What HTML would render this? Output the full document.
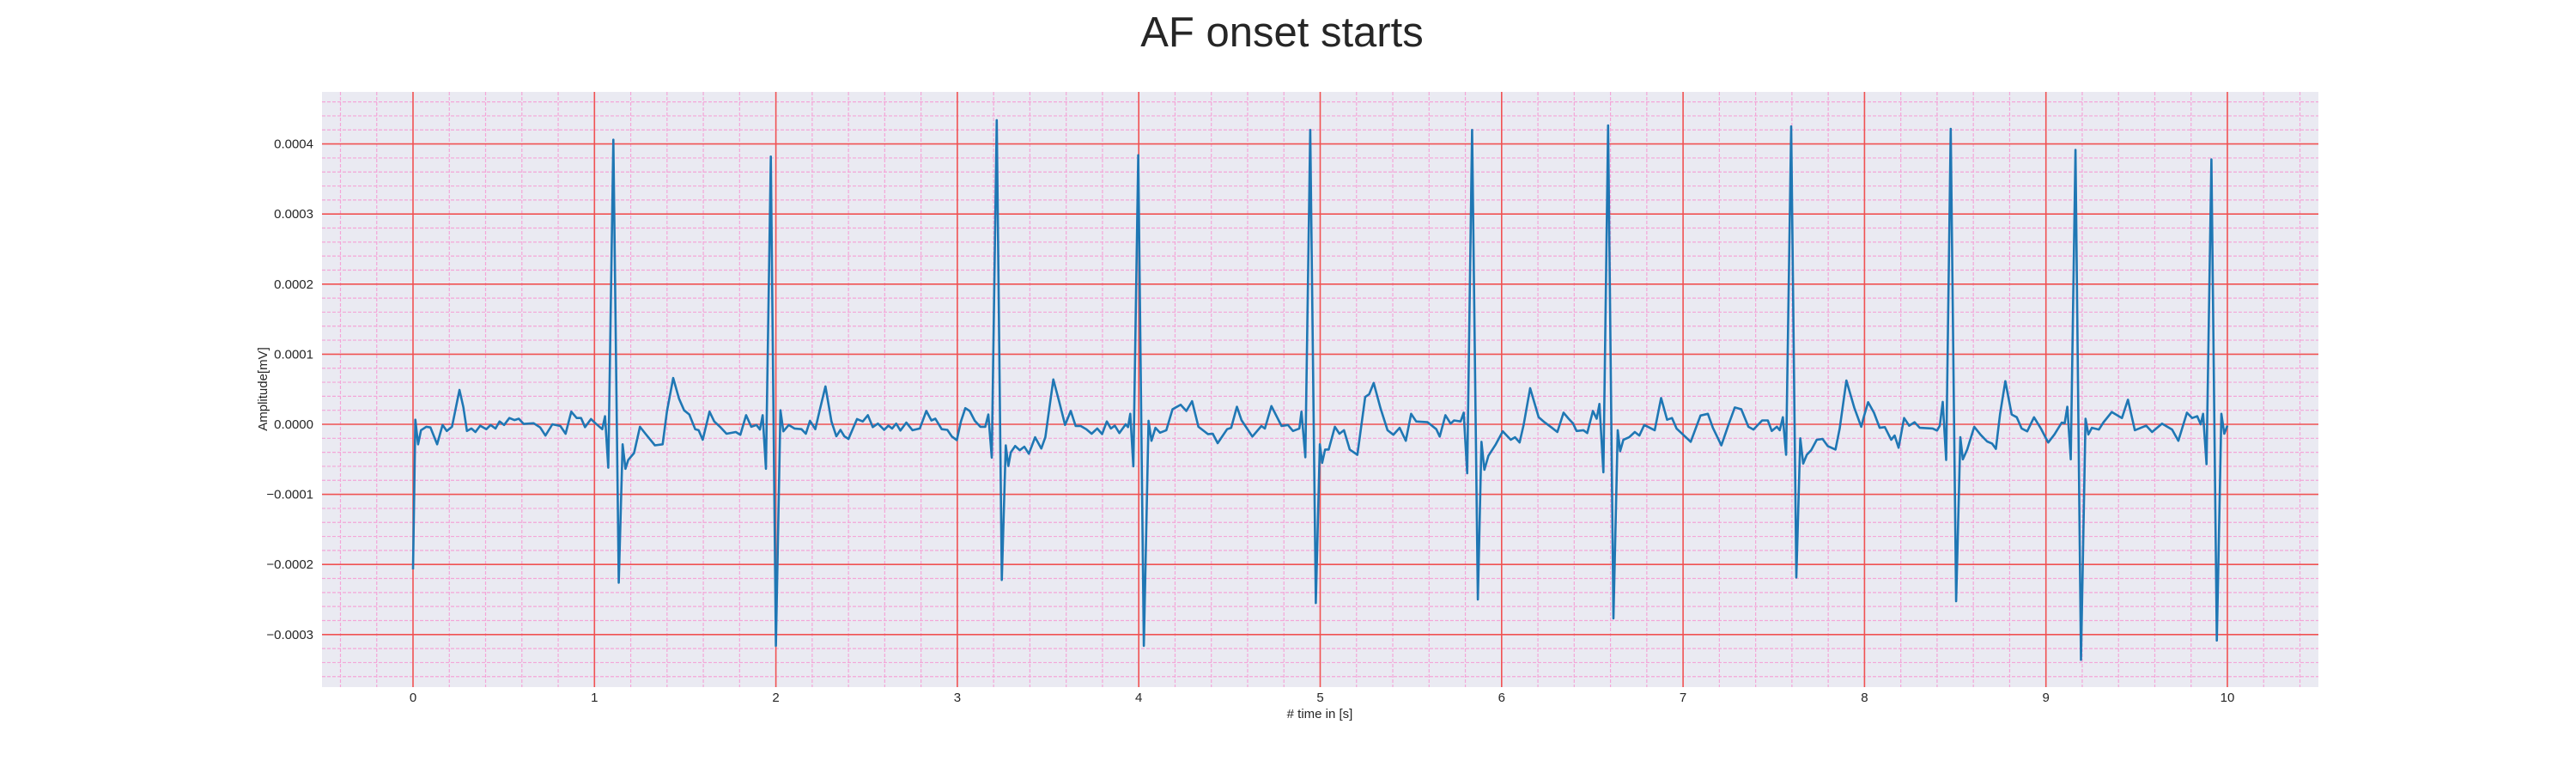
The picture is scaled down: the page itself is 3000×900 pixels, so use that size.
<!DOCTYPE html>
<html><head><meta charset="utf-8"><style>
html,body{margin:0;padding:0;background:#fff;}
svg{display:block;font-family:"Liberation Sans",Arial,sans-serif;}
</style></head><body>
<svg id="chart" width="3000" height="900" viewBox="0 0 3000 900" xmlns="http://www.w3.org/2000/svg">
<text x="1493" y="54" text-anchor="middle" font-size="49" fill="#262626">AF onset starts</text>
<rect x="375" y="107" width="2325" height="693" fill="#eaeaf2"/>
<g id="grid"></g>
<g id="series"></g>
<g id="ticks"></g>
<text x="1537" y="836" text-anchor="middle" font-size="15" fill="#262626"># time in [s]</text>
<text x="0" y="0" transform="translate(311,453) rotate(-90)" text-anchor="middle" font-size="15" fill="#262626">Amplitude[mV]</text>
</svg>
<script>
// time in seconds
const timeS = [0.0,0.013,0.028,0.044,0.073,0.096,0.133,0.163,0.186,0.215,0.256,0.278,0.297,0.322,0.344,0.370,0.404,0.428,0.455,0.477,0.502,0.531,0.559,0.583,0.610,0.665,0.701,0.730,0.768,0.812,0.841,0.872,0.902,0.926,0.948,0.981,1.005,1.043,1.058,1.076,1.104,1.134,1.155,1.171,1.186,1.218,1.251,1.281,1.333,1.376,1.4,1.434,1.466,1.494,1.523,1.555,1.574,1.597,1.634,1.66,1.692,1.728,1.779,1.804,1.836,1.864,1.893,1.912,1.927,1.945,1.972,
2.0,2.025,2.041,2.071,2.102,2.141,2.165,2.188,2.217,2.243,2.273,2.306,2.333,2.356,2.377,2.4,2.447,2.479,2.507,2.534,2.562,2.597,2.62,2.641,2.663,2.686,2.719,2.753,2.793,2.829,2.857,2.879,2.914,2.945,2.97,2.997,3.02,3.044,3.068,3.096,3.127,3.154,3.171,3.19,3.217,3.245,3.267,3.281,3.295,3.319,3.344,3.369,3.394,3.429,3.463,3.485,3.529,3.562,3.594,3.625,3.652,3.68,3.711,3.74,3.771,3.798,3.824,3.846,3.868,3.893,3.928,3.941,3.953,3.97,3.997,
4.028,4.054,4.07,4.092,4.117,4.152,4.186,4.231,4.262,4.294,4.329,4.381,4.408,4.435,4.487,4.509,4.541,4.566,4.626,4.676,4.695,4.731,4.787,4.822,4.85,4.885,4.897,4.918,4.945,4.976,4.998,5.011,5.027,5.047,5.081,5.106,5.131,5.163,5.205,5.248,5.27,5.295,5.332,5.371,5.403,5.438,5.472,5.501,5.529,5.592,5.64,5.659,5.69,5.719,5.738,5.774,5.791,5.81,5.837,5.869,5.889,5.905,5.927,5.968,6.006,6.05,
6.074,6.099,6.121,6.157,6.204,6.236,6.275,6.307,6.341,6.369,6.393,6.413,6.451,6.472,6.503,6.524,6.539,6.561,6.587,6.616,6.64,6.653,6.671,6.703,6.734,6.759,6.786,6.825,6.844,6.879,6.912,6.939,6.964,7.005,7.042,7.096,7.137,7.164,7.211,7.25,7.285,7.321,7.36,7.388,7.436,7.467,7.489,7.517,7.533,7.55,7.568,7.596,7.624,7.646,7.662,7.682,7.706,7.737,7.769,7.797,7.84,7.863,7.9,7.943,7.982,7.997,8.02,8.052,8.084,
8.112,8.147,8.166,8.188,8.218,8.246,8.276,8.305,8.376,8.4,8.415,8.431,8.45,8.475,8.505,8.528,8.542,8.566,8.605,8.64,8.676,8.703,8.724,8.747,8.776,8.811,8.839,8.866,8.897,8.934,8.972,8.997,9.013,9.047,9.087,9.103,9.118,9.137,9.163,9.193,9.218,9.234,9.253,9.292,9.316,9.363,9.419,9.452,9.49,9.553,9.585,9.64,9.695,9.73,9.777,9.806,9.834,9.853,9.866,9.885,9.912,9.942,9.967,9.983,10.0];
// amplitude in units of 1e-5 mV
const ampE5 = [-20.7,0.65,-2.85,-0.85,-0.35,-0.45,-2.85,-0.1,-0.95,-0.35,4.9,2.4,-0.95,-0.6,-1.1,-0.2,-0.7,-0.1,-0.6,0.4,-0.1,0.9,0.6,0.8,0.05,0.15,-0.45,-1.6,0,-0.25,-1.35,1.8,0.9,0.9,-0.4,0.75,0.15,-0.7,1.15,-6.2,40.6,-22.6,-2.85,-6.35,-5.1,-4.1,-0.35,-1.35,-3.0,-2.85,1.9,6.6,3.65,2.0,1.4,-0.7,-0.85,-2.2,1.8,0.4,-0.35,-1.35,-1.1,-1.5,1.3,-0.35,-0.1,-0.75,1.3,-6.35,38.2,
-31.6,2.0,-1.0,-0.1,-0.6,-0.7,-1.35,0.5,-0.7,2.15,5.4,0.4,-1.7,-0.8,-1.7,-2.1,0.75,0.4,1.3,-0.4,0.1,-0.8,-0.2,-0.6,0.1,-0.9,0.25,-0.85,-0.6,1.9,0.55,0.8,-0.7,-0.8,-1.75,-2.25,0.4,2.3,1.9,0.5,-0.35,-0.35,1.4,-4.75,43.4,-22.2,-3.0,-5.95,-4.0,-3.1,-3.7,-3.2,-4.2,-1.85,-3.45,-1.85,6.4,3.15,-0.1,1.9,-0.25,-0.25,-0.7,-1.35,-0.6,-1.4,0.4,-0.6,-0.2,-1.25,0,-0.4,1.5,-6.0,38.4,
-31.6,0.5,-2.35,-0.5,-1.2,-0.85,2.15,2.8,1.9,3.3,-0.35,-1.4,-1.35,-2.7,-0.7,-0.5,2.5,0.6,-1.75,-0.25,-0.6,2.6,-0.25,-0.1,-0.95,-0.6,1.8,-4.7,42.0,-25.5,-2.85,-5.5,-3.6,-3.6,-0.35,-1.35,-0.85,-3.6,-4.35,3.9,4.3,5.9,2.3,-0.85,-1.5,-0.5,-2.35,1.5,0.4,0.3,-0.7,-1.75,1.3,0.1,0.55,0.4,1.65,-7.0,42.0,-25.0,-2.5,-6.5,-4.5,-2.85,-1.0,-2.2,
-1.85,-2.6,-0.1,5.15,1.0,0.3,-0.45,-1.1,1.65,0.8,0.15,-0.95,-0.85,-1.25,1.9,0.8,2.9,-6.85,42.65,-27.7,-0.85,-3.85,-2.2,-1.85,-1.1,-1.6,-0.1,-0.6,-0.85,3.75,0.65,0.9,-0.6,-1.6,-2.5,1.25,1.5,-0.5,-3.0,-0.1,2.4,2.15,-0.35,-0.75,0.55,0.55,-0.95,-0.35,-0.85,1.0,-4.35,42.5,-21.85,-2.0,-5.6,-4.35,-3.7,-2.2,-2.1,-3.1,-3.6,-0.6,6.25,2.4,-0.35,1.15,3.15,1.65,-0.5,
-0.4,-2.2,-1.6,-3.35,0.9,-0.2,0.3,-0.5,-0.6,-0.9,-0.2,3.2,-5.1,42.15,-25.25,-1.85,-5.0,-3.6,-0.35,-1.5,-2.45,-2.75,-3.5,1.4,6.15,1.4,1.0,-0.6,-1.0,1.0,-0.6,-1.85,-2.6,-1.45,0.25,0.15,2.5,-5.0,39.15,-33.6,0.8,-1.45,-0.5,-0.75,0.25,1.75,0.9,3.5,-0.85,-0.2,-1.1,0.1,-0.75,-2.35,1.65,0.9,1.15,0,1.5,-5.7,37.8,-30.85,1.5,-1.35,-0.2];
const xTicks = [0,1,2,3,4,5,6,7,8,9,10];
const yTicks = [-3,-2,-1,0,1,2,3,4]; // units of 1e-4 mV
const yTickLabels = ["\u22120.0003","\u22120.0002","\u22120.0001","0.0000","0.0001","0.0002","0.0003","0.0004"];

const X0 = 481, XS = 211.3, Y0 = 494, YS = 81.6; // px per 1e-4 mV
const xPx = t => X0 + t * XS;
const yPxE4 = v => Y0 - v * YS;
const yPx = e5 => yPxE4(e5 / 10);
const NS = "http://www.w3.org/2000/svg";
const PL = 375, PR = 2700, PT = 107, PB = 800;
const grid = document.getElementById('grid');
function line(x1,y1,x2,y2,stroke,w,dash){
  const l = document.createElementNS(NS,'line');
  l.setAttribute('x1',x1);l.setAttribute('y1',y1);l.setAttribute('x2',x2);l.setAttribute('y2',y2);
  l.setAttribute('stroke',stroke);l.setAttribute('stroke-width',w);
  if(dash) l.setAttribute('stroke-dasharray',dash);
  grid.appendChild(l);
  return l;
}
for(let i=-2;i<=52;i++){
  if(i%5===0) continue;
  const l = line(xPx(i*0.2),PT,xPx(i*0.2),PB,'#f4a6d8',1.2,'4,2');
  
  
}
for(let j=-18;j<=23;j++){
  if(j%5===0) continue;
  const y = yPxE4(j*0.2);
  if(y<PT||y>PB) continue;
  const l = line(PL,y,PR,y,'#f4a6d8',1.2,'4,2');
  
  
}
const ticks = document.getElementById('ticks');
xTicks.forEach(t=>{
  const l = line(xPx(t),PT,xPx(t),PB,'#f05252',1.6);
  
  
  const tx = document.createElementNS(NS,'text');
  tx.setAttribute('x',xPx(t));tx.setAttribute('y',PB+17);
  tx.setAttribute('text-anchor','middle');tx.setAttribute('font-size','15');tx.setAttribute('fill','#262626');
  tx.textContent = String(t);
  
  
  ticks.appendChild(tx);
});
yTicks.forEach((v,i)=>{
  const l = line(PL,yPxE4(v),PR,yPxE4(v),'#f05252',1.6);
  
  
  const tx = document.createElementNS(NS,'text');
  tx.setAttribute('x',PL-10);tx.setAttribute('y',yPxE4(v)+5);
  tx.setAttribute('text-anchor','end');tx.setAttribute('font-size','15');tx.setAttribute('fill','#262626');
  tx.textContent = yTickLabels[i];
  
  
  ticks.appendChild(tx);
});
const pts = timeS.map((t,i)=>xPx(t).toFixed(1)+','+yPx(ampE5[i]).toFixed(1)).join(' ');
const pl = document.createElementNS(NS,'polyline');
pl.setAttribute('points',pts);
pl.setAttribute('fill','none');pl.setAttribute('stroke','#1f77b4');pl.setAttribute('stroke-width','2.6');
pl.setAttribute('stroke-linejoin','round');


document.getElementById('series').appendChild(pl);
</script>
</body></html>
